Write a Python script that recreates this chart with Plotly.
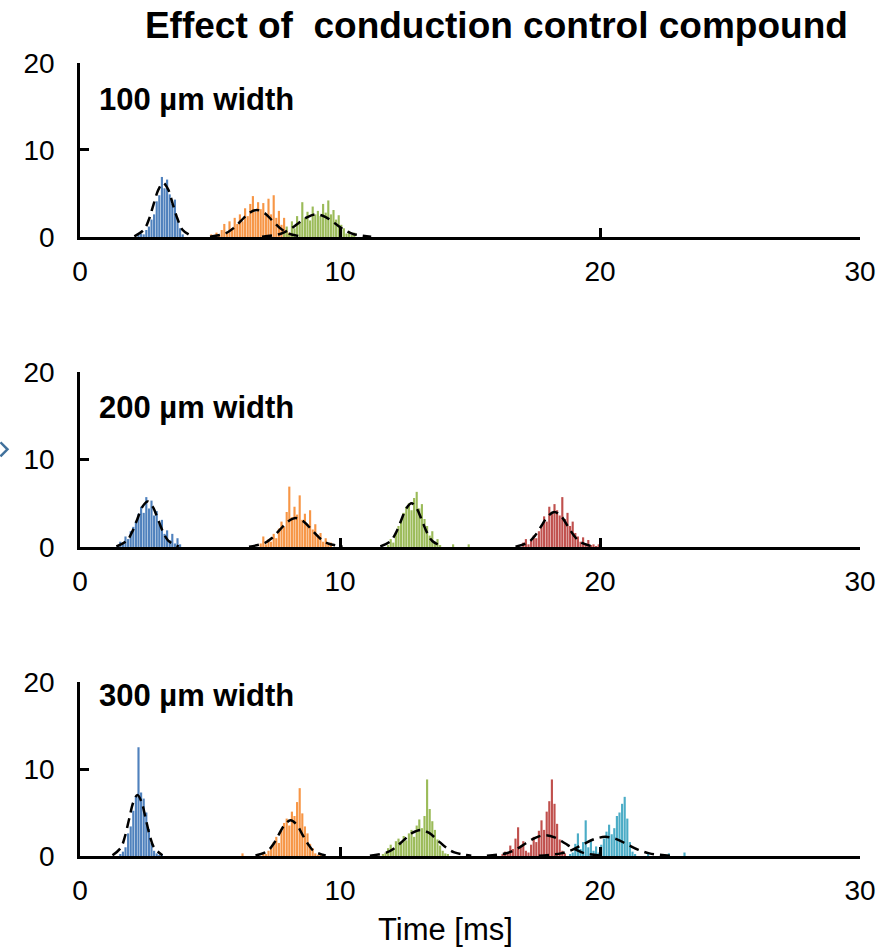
import plotly.graph_objects as go

BIN_WIDTH = 0.1  # ms per histogram bin

BLUE = "#4F81BD"
ORANGE = "#F79646"
GREEN = "#9BBB59"
RED = "#C0504D"
CYAN = "#4BACC6"

PANEL_LABELS = ["100 µm width", "200 µm width", "300 µm width"]
X_TICKS = [0, 10, 20, 30]
Y_TICKS = [0, 10, 20]

# ---- 100 µm width: histogram counts (first bin start in ms, then counts per bin)
w100_blue_start = 2.2
w100_blue = [0.2, 0.4, 0.3, 0.8, 1.2, 2.0, 2.6, 4.1, 4.8, 6.9, 5.6, 6.6, 4.9, 3.8, 4.3, 2.1, 1.0, 0.3]
w100_orange_start = 5.0
w100_orange = [0.3, 0.0, 0.5, 0.2, 0.8, 1.5, 0.6, 1.8, 1.0, 2.2, 1.5, 2.6, 1.8, 3.3, 2.4, 3.8,
               4.7, 2.9, 4.0, 3.2, 3.9, 2.5, 4.4, 2.6, 4.8, 2.2, 3.0, 1.4, 2.2, 0.8, 0.5]
w100_green_start = 7.8
w100_green = [0.5, 1.2, 0.4, 1.8, 1.0, 2.4, 1.6, 4.0, 2.2, 2.9, 1.9, 3.5, 2.6, 3.0, 2.4, 3.8,
              2.8, 4.2, 2.6, 3.1, 2.0, 2.5, 1.4, 1.0, 0.4, 0.7, 0.2, 0.5]

# ---- 200 µm width
w200_blue_start = 1.4
w200_blue = [0.2, 0.6, 0.4, 1.2, 0.9, 1.8, 2.3, 2.9, 3.8, 4.6, 3.9, 5.7, 4.4, 5.3, 3.6, 4.1,
             2.6, 3.1, 1.5, 1.9, 0.8, 1.5, 0.4, 1.0, 0.3]
w200_orange_start = 6.9
w200_orange = [0.4, 1.2, 0.3, 0.9, 0.6, 1.5, 1.0, 2.1, 2.9, 2.3, 4.0, 6.9, 3.4, 4.6, 3.7, 5.9,
               3.1, 3.8, 2.6, 4.2, 2.0, 2.6, 1.4, 1.6, 0.6, 1.0, 0.3, 0.5]
w200_green_start = 11.8
w200_green = [0.2, 0.9, 0.5, 1.6, 2.4, 3.1, 3.9, 4.6, 5.0, 4.2, 5.6, 6.3, 4.4, 4.9, 3.2, 2.4,
              1.3, 1.8, 0.6, 0.9, 0.2, 0.0, 0.0, 0.0, 0.0, 0.3, 0.0, 0.0, 0.0, 0.0, 0.0, 0.3]
w200_red_start = 17.0
w200_red = [0.5, 0.9, 0.3, 0.7, 1.3, 1.0, 1.8, 2.4, 3.5, 2.9, 4.6, 3.8, 4.9, 4.2, 3.6, 5.7,
            3.2, 3.9, 2.4, 2.9, 1.6, 1.2, 0.6, 1.1, 0.4, 0.8, 0.2, 0.3, 0.1, 0.3]

# ---- 300 µm width
w300_blue_start = 1.5
w300_blue = [0.2, 0.5, 1.0, 2.6, 3.4, 5.2, 6.9, 12.5, 7.3, 6.6, 5.0, 3.1, 1.5, 0.6, 0.3, 0.1, 0.2]
w300_orange_start = 6.2
w300_orange = [0.3, 0.0, 0.0, 0.0, 0.0, 0.0, 0.0, 0.0, 0.3, 0.2, 0.6, 1.0, 1.6, 2.2, 1.5, 2.9,
               3.8, 4.3, 3.5, 5.1, 4.6, 6.2, 7.8, 4.9, 3.4, 2.6, 1.4, 0.9, 0.3, 0.1, 0.3]
w300_green_start = 11.6
w300_green = [0.2, 0.4, 0.9, 1.3, 0.8, 1.7, 2.0, 1.4, 2.3, 1.8, 2.6, 3.0, 2.2, 3.5, 4.2, 3.2,
              4.6, 8.8, 5.4, 4.0, 3.0, 1.9, 1.2, 0.6, 0.3, 0.2]
w300_red_start = 16.2
w300_red = [0.2, 0.5, 0.3, 1.2, 0.8, 2.0, 3.3, 1.1, 1.7, 0.6, 0.4, 1.3, 2.2, 1.6, 2.9, 4.1,
            3.0, 5.1, 6.3, 8.8, 6.0, 3.7, 1.9, 0.6, 0.3]
w300_cyan_start = 18.8
w300_cyan = [0.2, 0.4, 1.4, 2.6, 0.8, 1.6, 4.1, 1.0, 1.8, 0.6, 1.1, 0.4, 1.3, 2.0, 2.8, 3.6,
             2.5, 3.2, 4.6, 5.0, 6.0, 6.8, 4.3, 1.6, 0.5, 0.2, 0.0, 0.0, 0.0, 0.0, 0.4,
             0.0, 0.0, 0.0, 0.0, 0.0, 0.0, 0.0, 0.3, 0.0, 0.0, 0.0, 0.0, 0.0, 0.4]

# ---- Gaussian fit curves (time in ms, counts)
fit100_blue_t = [2.09, 2.46, 2.65, 2.83, 3.02, 3.2, 3.39, 3.57, 3.76, 3.94, 4.31]
fit100_blue_y = [0.07, 0.84, 2.01, 3.76, 5.47, 6.2, 5.47, 3.76, 2.01, 0.84, 0.07]
fit100_orange_t = [5.0, 5.6, 5.9, 6.2, 6.5, 6.8, 7.1, 7.4, 7.7, 8.0, 8.6]
fit100_orange_y = [0.03, 0.42, 1.01, 1.88, 2.74, 3.1, 2.74, 1.88, 1.01, 0.42, 0.03]
fit100_green_t = [7.0, 7.7, 8.05, 8.4, 8.75, 9.1, 9.45, 9.8, 10.15, 10.5, 11.2]
fit100_green_y = [0.03, 0.35, 0.84, 1.58, 2.29, 2.6, 2.29, 1.58, 0.84, 0.35, 0.03]

fit200_blue_t = [1.4, 1.8, 2.0, 2.2, 2.4, 2.6, 2.8, 3.0, 3.2, 3.4, 3.8]
fit200_blue_y = [0.06, 0.70, 1.69, 3.15, 4.59, 5.2, 4.59, 3.15, 1.69, 0.70, 0.06]
fit200_orange_t = [6.5, 7.1, 7.4, 7.7, 8.0, 8.3, 8.6, 8.9, 9.2, 9.5, 10.1]
fit200_orange_y = [0.04, 0.45, 1.07, 2.0, 2.91, 3.3, 2.91, 2.0, 1.07, 0.45, 0.04]
fit200_green_t = [11.55, 11.95, 12.15, 12.35, 12.55, 12.75, 12.95, 13.15, 13.35, 13.55, 13.95]
fit200_green_y = [0.06, 0.68, 1.62, 3.03, 4.41, 5.0, 4.41, 3.03, 1.62, 0.68, 0.06]
fit200_red_t = [16.75, 17.25, 17.5, 17.75, 18.0, 18.25, 18.5, 18.75, 19.0, 19.25, 19.75]
fit200_red_y = [0.04, 0.54, 1.30, 2.43, 3.53, 4.0, 3.53, 2.43, 1.30, 0.54, 0.04]

fit300_blue_t = [1.25, 1.57, 1.73, 1.89, 2.05, 2.21, 2.37, 2.53, 2.69, 2.85, 3.17]
fit300_blue_y = [0.08, 0.95, 2.27, 4.25, 6.18, 7.0, 6.18, 4.25, 2.27, 0.95, 0.08]
fit300_orange_t = [6.75, 7.2, 7.43, 7.65, 7.88, 8.1, 8.33, 8.55, 8.78, 9.0, 9.45]
fit300_orange_y = [0.05, 0.55, 1.33, 2.49, 3.62, 4.1, 3.62, 2.49, 1.33, 0.55, 0.05]
fit300_green_t = [11.15, 11.8, 12.13, 12.45, 12.78, 13.1, 13.43, 13.75, 14.08, 14.4, 15.05]
fit300_green_y = [0.03, 0.41, 0.97, 1.82, 2.65, 3.0, 2.65, 1.82, 0.97, 0.41, 0.03]
fit300_red_t = [15.65, 16.4, 16.78, 17.15, 17.53, 17.9, 18.28, 18.65, 19.03, 19.4, 20.15]
fit300_red_y = [0.03, 0.32, 0.78, 1.46, 2.12, 2.4, 2.12, 1.46, 0.78, 0.32, 0.03]
fit300_cyan_t = [17.65, 18.5, 18.93, 19.35, 19.78, 20.2, 20.63, 21.05, 21.48, 21.9, 22.75]
fit300_cyan_y = [0.02, 0.30, 0.71, 1.33, 1.94, 2.2, 1.94, 1.33, 0.71, 0.30, 0.02]

panels = [
    {
        "hists": [(w100_blue_start, w100_blue, BLUE),
                  (w100_orange_start, w100_orange, ORANGE),
                  (w100_green_start, w100_green, GREEN)],
        "fits": [(fit100_blue_t, fit100_blue_y), (fit100_orange_t, fit100_orange_y),
                 (fit100_green_t, fit100_green_y)],
    },
    {
        "hists": [(w200_blue_start, w200_blue, BLUE),
                  (w200_orange_start, w200_orange, ORANGE),
                  (w200_green_start, w200_green, GREEN),
                  (w200_red_start, w200_red, RED)],
        "fits": [(fit200_blue_t, fit200_blue_y), (fit200_orange_t, fit200_orange_y),
                 (fit200_green_t, fit200_green_y), (fit200_red_t, fit200_red_y)],
    },
    {
        "hists": [(w300_blue_start, w300_blue, BLUE),
                  (w300_orange_start, w300_orange, ORANGE),
                  (w300_green_start, w300_green, GREEN),
                  (w300_red_start, w300_red, RED),
                  (w300_cyan_start, w300_cyan, CYAN)],
        "fits": [(fit300_blue_t, fit300_blue_y), (fit300_orange_t, fit300_orange_y),
                 (fit300_green_t, fit300_green_y), (fit300_red_t, fit300_red_y),
                 (fit300_cyan_t, fit300_cyan_y)],
    },
]

# vertical placement of each panel (paper fractions) and of its label
domains = [[0.7806, 1.0], [0.3897, 0.6103], [0.0, 0.2194]]
label_y = [0.79, 0.795, 0.925]

FONT = "Arial, Liberation Sans, sans-serif"

fig = go.Figure()

for i, panel in enumerate(panels):
    xa = "x" if i == 0 else f"x{i + 1}"
    ya = "y" if i == 0 else f"y{i + 1}"
    for start, counts, color in panel["hists"]:
        centers = [start + BIN_WIDTH * (k + 0.5) for k in range(len(counts))]
        fig.add_trace(go.Bar(
            x=centers, y=counts, width=BIN_WIDTH * 0.82,
            marker=dict(color=color, line=dict(width=0)),
            xaxis=xa, yaxis=ya, showlegend=False, hoverinfo="skip",
        ))
    for t, y in panel["fits"]:
        fig.add_trace(go.Scatter(
            x=t, y=y, mode="lines",
            line=dict(color="black", width=2.5, dash="10px,6px", shape="spline", smoothing=1.0),
            xaxis=xa, yaxis=ya, showlegend=False, hoverinfo="skip",
        ))

axis_common = dict(
    showgrid=False, zeroline=False, showline=True, linecolor="black", linewidth=2.5,
    ticks="inside", ticklen=9, tickwidth=2.5, tickcolor="black",
    tickfont=dict(family=FONT, size=28, color="black"),
)

layout = dict(
    width=888, height=952,
    margin=dict(l=80, r=24, t=63, b=96),
    plot_bgcolor="white", paper_bgcolor="white",
    barmode="overlay",
    title=dict(
        text="<b>Effect of\u00a0 conduction control compound</b>",
        font=dict(family=FONT, size=37, color="black"),
        x=0.559, xanchor="center", y=0.974, yanchor="middle",
    ),
    annotations=[],
)

for i in range(3):
    xkey = "xaxis" if i == 0 else f"xaxis{i + 1}"
    ykey = "yaxis" if i == 0 else f"yaxis{i + 1}"
    yname = "y" if i == 0 else f"y{i + 1}"
    xname = "x" if i == 0 else f"x{i + 1}"
    layout[xkey] = dict(
        axis_common, range=[0, 30], tickvals=X_TICKS, anchor=yname,
        domain=[0, 1], ticklabelstandoff=8,
    )
    layout[ykey] = dict(
        axis_common, range=[0, 20], tickvals=Y_TICKS, anchor=xname,
        domain=domains[i], ticklabelstandoff=17,
    )
    layout["annotations"].append(dict(
        text=f"<b>{PANEL_LABELS[i]}</b>", showarrow=False,
        xref=f"{xname} domain", yref=f"{yname} domain",
        x=0.022, y=label_y[i], xanchor="left", yanchor="middle",
        font=dict(family=FONT, size=31, color="black"),
    ))

layout["annotations"].append(dict(
    text="Time [ms]", showarrow=False, xref="paper", yref="paper",
    x=0.469, y=-0.093, xanchor="center", yanchor="middle",
    font=dict(family=FONT, size=31, color="black"),
))

# small chevron at the left edge of the middle panel
layout["shapes"] = [dict(
    type="path", xref="paper", yref="paper",
    path="M -0.102,0.5217 L -0.093,0.5128 L -0.102,0.5039",
    line=dict(color="#41719C", width=2.5),
)]

fig.update_layout(layout)
fig.write_html("out.html")
